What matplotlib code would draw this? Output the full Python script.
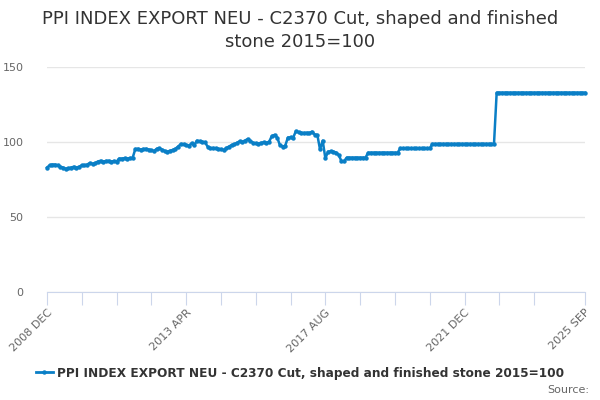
import numpy as np
import matplotlib
matplotlib.use("Agg")
from matplotlib import pyplot as plt
from matplotlib.lines import Line2D

# monthly index values, 2008 DEC .. 2025 SEP
values = [
    83, 84.5, 85, 85, 84.5, 83.5, 83, 82.2, 82.5, 83, 83.5, 83,
    83.5, 84.5, 84.5, 85, 86, 85.5, 86, 87, 87.5, 87, 87.3, 87.5,
    87, 87.3, 87, 89, 89, 89.2, 89, 89.3, 89.5, 95.3, 95.5, 95,
    95.3, 95.5, 95, 94.5, 94, 95.5, 95.8, 95, 94, 93.6, 94.2, 94.7,
    95.5, 97, 98.7, 98.5, 98, 97.6, 99.1, 97.8, 100.9, 100.5, 100.2, 99.8,
    97, 95.8, 96, 95.8, 95.5, 95.2, 94.7, 96, 97, 98, 98.5, 99.5,
    100.5, 100.2, 101, 102, 100.5, 99.5, 99.1, 99, 99.5, 99.8, 99.5, 100.2,
    104, 104.7, 103, 98, 96.9, 97.5, 103, 103.1, 103, 107.3, 106.5, 106.2,
    106, 106.2, 106, 106.9, 105, 104.7, 95.1, 100.9, 89.1, 93.6, 93.8, 93.6,
    93, 91.3, 87.3, 87.3, 89.6, 89.6, 89.6, 89.6, 89.6, 89.6, 89.6, 89.6,
    92.9, 92.9, 92.9, 92.9, 92.9, 92.9, 92.9, 92.9, 92.9, 92.9, 92.9, 92.9,
    95.8, 95.8, 95.8, 95.8, 95.8, 95.8, 95.8, 95.8, 95.8, 95.8, 95.8, 95.8,
    98.7, 98.7, 98.7, 98.7, 98.7, 98.7, 98.7, 98.7, 98.7, 98.7, 98.7, 98.7,
    98.7, 98.7, 98.7, 98.7, 98.7, 98.7, 98.7, 98.7, 98.7, 98.7, 98.7, 98.7,
    132.9, 132.9, 132.9, 132.9, 132.9, 132.9, 132.9, 132.9, 132.9, 132.9, 132.9, 132.9,
    132.9, 132.9, 132.9, 132.9, 132.9, 132.9, 132.9, 132.9, 132.9, 132.9, 132.9, 132.9,
    132.9, 132.9, 132.9, 132.9, 132.9, 132.9, 132.9, 132.9, 132.9, 132.9,
]
months = np.arange(len(values))

tick_pos = list(range(0, 183, 13)) + [len(values) - 1]
tick_labels = {0: "2008 DEC", 52: "2013 APR", 104: "2017 AUG", 156: "2021 DEC", 201: "2025 SEP"}

series_name = "PPI INDEX EXPORT NEU - C2370 Cut, shaped and finished stone 2015=100"
title = "PPI INDEX EXPORT NEU - C2370 Cut, shaped and finished\nstone 2015=100"
color = "#0a7fc6"

plt.rcParams["font.family"] = ["DejaVu Sans"]
fig = plt.figure(figsize=(6, 4), dpi=100)
ax = fig.add_axes([47 / 600, 1 - 292 / 400, (585 - 47) / 600, (292 - 67) / 400])

ax.plot(months, values, color=color, lw=1.8, marker="o", ms=2.2, mec=color, mfc=color, clip_on=False)

ax.set_xlim(0, len(values) - 1)
ax.set_ylim(0, 150)
ax.set_yticks([0, 50, 100, 150])
ax.grid(axis="y", color="#e6e6e6", lw=1)
ax.set_axisbelow(True)
for s in ["top", "right", "left"]:
    ax.spines[s].set_visible(False)
ax.spines["bottom"].set_color("#ccd6eb")
ax.tick_params(axis="y", length=0, labelsize=8, labelcolor="#666666", pad=17)
ax.set_xticks(tick_pos)
ax.set_xticklabels([tick_labels.get(t, "") for t in tick_pos], rotation=45, ha="right",
                   rotation_mode="anchor", fontsize=8, color="#666666")
ax.tick_params(axis="x", length=9, color="#ccd6eb", direction="out", pad=2)

fig.suptitle(title, y=0.975, fontsize=13, color="#333333", linespacing=1.35)

handle = Line2D([], [], color=color, lw=2, marker="o", ms=2.2)
fig.legend([handle], [series_name], loc="center", bbox_to_anchor=(0.5, 1 - 373 / 400),
           frameon=False, prop={"size": 8.75, "weight": "bold"}, handlelength=1.4,
           handletextpad=0.4, labelcolor="#333333")
fig.text(0.982, 1 - 390 / 400, "Source:", ha="right", va="center", fontsize=8, color="#666666")

fig.savefig("out.png", dpi=100)
